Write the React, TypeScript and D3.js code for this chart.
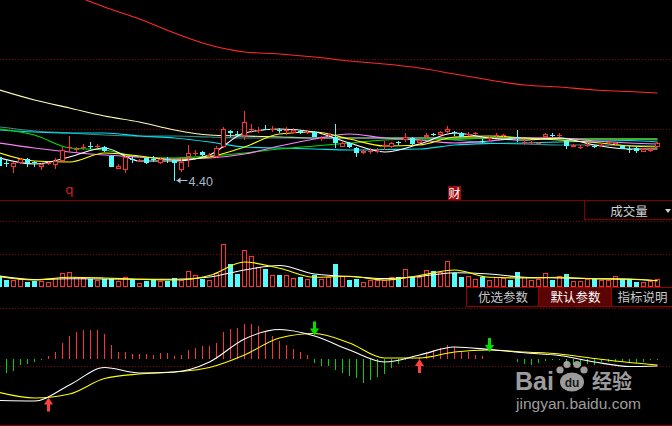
import React from "react";
import * as d3 from "d3";

// ---------------- DATA ----------------
const candleOpen = [4.64,4.58,4.54,4.58,4.62,4.59,4.54,4.57,4.56,4.60,4.73,4.72,4.74,4.755,4.75,4.74,4.65,4.52,4.51,4.615,4.605,4.63,4.625,4.58,4.615,4.61,4.51,4.64,4.68,4.69,4.66,4.64,4.74,4.90,4.865,4.85,4.92,4.91,4.925,4.92,4.91,4.90,4.88,4.90,4.89,4.89,4.825,4.86,4.84,4.74,4.78,4.73,4.68,4.69,4.70,4.76,4.74,4.785,4.81,4.83,4.78,4.84,4.87,4.86,4.89,4.895,4.88,4.87,4.875,4.805,4.825,4.855,4.855,4.835,4.845,4.78,4.78,4.77,4.84,4.86,4.855,4.80,4.74,4.74,4.76,4.75,4.76,4.785,4.77,4.75,4.725,4.73,4.69,4.70,4.74];
const candleHigh = [4.66,4.61,4.59,4.63,4.63,4.60,4.58,4.59,4.63,4.74,4.85,4.74,4.77,4.79,4.77,4.75,4.66,4.57,4.65,4.64,4.62,4.64,4.65,4.63,4.64,4.62,4.63,4.76,4.71,4.70,4.68,4.75,4.94,4.91,4.90,5.10,4.97,4.94,4.96,4.95,4.93,4.94,4.93,4.91,4.91,4.90,4.85,4.88,4.97,4.79,4.79,4.74,4.71,4.73,4.73,4.80,4.79,4.80,4.88,4.84,4.82,4.88,4.88,4.90,4.95,4.90,4.89,4.89,4.89,4.82,4.85,4.88,4.87,4.84,4.91,4.81,4.80,4.79,4.88,4.88,4.88,4.81,4.77,4.76,4.78,4.76,4.78,4.81,4.79,4.76,4.75,4.74,4.73,4.73,4.79];
const candleLow = [4.54,4.54,4.48,4.57,4.54,4.54,4.51,4.56,4.52,4.59,4.69,4.69,4.71,4.72,4.73,4.69,4.54,4.52,4.48,4.58,4.59,4.57,4.59,4.57,4.58,4.40,4.49,4.54,4.65,4.65,4.64,4.63,4.73,4.84,4.84,4.81,4.88,4.88,4.91,4.89,4.88,4.86,4.88,4.87,4.87,4.84,4.80,4.84,4.73,4.74,4.73,4.64,4.67,4.67,4.68,4.71,4.73,4.76,4.79,4.76,4.77,4.83,4.85,4.85,4.88,4.85,4.84,4.85,4.86,4.78,4.80,4.84,4.84,4.82,4.79,4.76,4.76,4.76,4.84,4.84,4.84,4.72,4.74,4.72,4.74,4.73,4.74,4.76,4.76,4.72,4.68,4.68,4.69,4.69,4.74];
const candleClose = [4.55,4.575,4.58,4.62,4.58,4.585,4.57,4.575,4.60,4.71,4.735,4.725,4.745,4.75,4.755,4.70,4.54,4.55,4.64,4.61,4.61,4.58,4.62,4.62,4.61,4.58,4.59,4.68,4.685,4.66,4.665,4.73,4.92,4.88,4.86,4.99,4.925,4.915,4.92,4.925,4.905,4.905,4.91,4.88,4.895,4.84,4.83,4.865,4.78,4.78,4.74,4.68,4.70,4.695,4.705,4.765,4.78,4.78,4.84,4.77,4.81,4.86,4.865,4.89,4.92,4.89,4.84,4.875,4.88,4.80,4.83,4.86,4.86,4.83,4.84,4.785,4.785,4.775,4.87,4.855,4.86,4.75,4.76,4.745,4.765,4.745,4.765,4.79,4.78,4.72,4.72,4.70,4.72,4.72,4.78];
const volume = [11000,7000,7000,8000,5000,6000,6000,5000,9000,14000,15000,10000,9000,8000,7000,8000,8000,6000,10000,8000,4000,6000,8000,6000,6000,9000,7000,16000,12000,8000,7000,14000,43000,23000,13000,37000,31000,20000,18000,12000,12000,12000,9000,10000,8000,12000,8000,10000,23000,11000,7000,8000,5000,7000,7000,7000,10000,10000,18000,10000,10000,17000,16000,15000,26000,14000,10000,11000,8000,10000,7000,10000,9000,7000,15000,10000,7000,8000,14000,7000,11000,13000,6000,6000,8000,8000,7000,7000,11000,8000,8000,5000,5000,6000,8000];

// moving-average lines, read at these candle indices
const sampleIdx = [0,5,10,15,20,25,30,35,40,45,50,55,60,65,70,75,80,85,90,94];
const maRed = [6.61,6.46,6.28,6.14,6.02,5.88,5.76,5.69,5.67,5.64,5.60,5.57,5.53,5.47,5.41,5.36,5.34,5.31,5.295,5.28];
const maCream = [5.31,5.21,5.13,5.05,4.99,4.91,4.86,4.85,4.84,4.83,4.83,4.83,4.83,4.83,4.83,4.83,4.825,4.82,4.82,4.82];
const maTeal = [4.94,4.90,4.88,4.86,4.85,4.85,4.84,4.83,4.83,4.83,4.83,4.83,4.83,4.81,4.78,4.77,4.76,4.76,4.755,4.75];
const maCyan = [4.91,4.89,4.88,4.88,4.85,4.83,4.79,4.74,4.73,4.72,4.71,4.715,4.72,4.76,4.775,4.78,4.79,4.80,4.805,4.79];
const maGreen = [4.92,4.86,4.73,4.71,4.64,4.63,4.65,4.68,4.72,4.75,4.78,4.81,4.82,4.815,4.83,4.825,4.82,4.82,4.82,4.81];
const maMagenta = [4.78,4.73,4.69,4.66,4.64,4.62,4.63,4.67,4.75,4.82,4.87,4.83,4.81,4.78,4.80,4.83,4.83,4.80,4.78,4.77];
const maYellow = [4.68,4.60,4.59,4.68,4.65,4.61,4.64,4.74,4.87,4.89,4.82,4.75,4.76,4.84,4.85,4.83,4.81,4.785,4.75,4.74];
const maWhite = [4.63,4.57,4.64,4.73,4.60,4.60,4.66,4.88,4.92,4.89,4.78,4.69,4.77,4.88,4.83,4.81,4.83,4.76,4.72,4.72];

const volMa5 = [10300,7000,9700,9000,7700,7000,11500,25000,18700,9700,10700,7000,11500,17000,9700,9000,9700,8300,8000,6300];
const volMa10 = [11000,7500,8300,8000,7700,7700,10000,17000,21500,13000,10500,8500,10500,14300,13000,9700,9000,8300,7700,6300];

const macdBar = [-0.014,-0.014,-0.012,-0.0065,-0.0055,-0.0035,-0.001,0.0025,0.007,0.016,0.0225,0.0265,0.0285,0.0285,0.0285,0.0245,0.0135,0.007,0.007,0.0045,0.005,0.0045,0.0035,0.006,0.006,0.0025,0.0035,0.0085,0.011,0.0125,0.0125,0.016,0.027,0.030,0.0305,0.035,0.035,0.0325,0.0265,0.0225,0.018,0.0135,0.010,0.007,0.0035,-0.004,-0.0075,-0.007,-0.0115,-0.0145,-0.0175,-0.0195,-0.024,-0.0215,-0.0185,-0.015,-0.009,-0.005,-0.001,0.0005,0.0015,0.007,0.0085,0.011,0.0135,0.012,0.007,0.007,0.0035,0.0025,-0.0005,-0.0005,-0.0005,-0.0005,-0.0035,-0.005,-0.006,-0.004,-0.0025,-0.001,-0.001,-0.005,-0.006,-0.007,-0.005,-0.006,-0.0035,-0.003,-0.003,-0.0035,-0.004,-0.004,-0.0035,-0.0015,-0.001];
const difLine = [-0.042,-0.0425,-0.0265,-0.009,-0.0145,-0.0135,-0.0035,0.0195,0.029,0.0225,0.0085,-0.0035,0.0035,0.0115,0.009,0.0057,0.003,-0.0035,-0.008,-0.0075];
const deaLine = [-0.034,-0.0395,-0.0355,-0.020,-0.0155,-0.0135,-0.009,0.0035,0.0205,0.025,0.0155,0.0005,0.0005,0.0065,0.0085,0.0065,0.0045,0.0,-0.004,-0.0065];
const buySignals = [7, 60];
const sellSignals = [45, 70];

const eventIdx = [10, 65];
const eventText = ["q", "财"];
const volumeTitle = "成交量";
const buttonLabels = ["优选参数", "默认参数", "指标说明"];

// ---------------- STYLE ----------------
const RED = "#ff3232";
const CYAN = "#54fcfc";
const GRID = "#8a0000";
const CJK = "'Noto Sans CJK SC', sans-serif";

export default function App() {
  const n = candleOpen.length;
  const x = d3.scaleLinear().domain([0, n - 1]).range([-0.5, 7 * (n - 1) - 0.5]);
  const yP = d3.scaleLinear().domain([6.21, 4.21]).range([0, 200]);
  const yV = d3.scaleLinear().domain([0, 87000]).range([287, 200]);
  const yM = d3.scaleLinear().domain([-0.0665, 0.0505]).range([425, 308]);

  const sampled = (vals: number[], ys: (v: number) => number) =>
    d3.line<number>().x((_, i) => x(sampleIdx[i])).y((d) => ys(d)).curve(d3.curveMonotoneX)(vals) || "";

  const priceLines: [number[], string][] = [
    [maRed, "#ff2a2a"],
    [maCream, "#ffffb4"],
    [maTeal, "#3a8c8c"],
    [maCyan, "#00e4f0"],
    [maGreen, "#00e000"],
    [maMagenta, "#ff80ff"],
    [maYellow, "#ffff00"],
    [maWhite, "#ffffff"],
  ];

  const R = Math.round;
  const lowIdx = d3.minIndex(candleLow);
  const lowLabel = d3.format(".2f")(candleLow[lowIdx]);
  const deaAt = d3.scaleLinear().domain(sampleIdx).range(deaLine);

  const gridDots = (y: number, key: string) => (
    <line key={key} x1={0} x2={672} y1={y + 0.5} y2={y + 0.5} stroke={GRID} strokeDasharray="1 2" />
  );

  const btnEdges = [466, 538, 611, 673];

  return (
    <svg width={672} height={426} style={{ position: "fixed", left: 0, top: 0, background: "#000" }}>
      <rect x={0} y={0} width={672} height={426} fill="#000" />
      <defs>
        <clipPath id="pclip"><rect x={0} y={0} width={672} height={200} /></clipPath>
      </defs>

      {/* grids */}
      {gridDots(59, "g1")}
      {gridDots(129, "g2")}
      {gridDots(221, "g3")}
      {gridDots(254, "g4")}
      {gridDots(308, "g5")}
      {gridDots(366, "g6")}
      <line x1={0} x2={672} y1={200.5} y2={200.5} stroke="#800000" />
      <line x1={0} x2={672} y1={425.5} y2={425.5} stroke="#800000" />

      {/* price panel */}
      <g clipPath="url(#pclip)">
        {priceLines.map(([vals, col], i) => (
          <path key={"ma" + i} d={sampled(vals, yP)} fill="none" stroke={col} strokeWidth={1.1} />
        ))}
        <g shapeRendering="crispEdges">
          {candleOpen.map((o, i) => {
            const c = candleClose[i];
            const cx = x(i);
            const hi = R(yP(candleHigh[i]));
            const lo = R(yP(candleLow[i]));
            if (c >= o) {
              const top = R(yP(c));
              const bot = R(yP(o));
              if (bot - top >= 2) {
                return (
                  <g key={"c" + i}>
                    <line x1={cx} x2={cx} y1={hi} y2={top} stroke={RED} />
                    <line x1={cx} x2={cx} y1={bot} y2={lo} stroke={RED} />
                    <rect x={cx - 2} y={top + 0.5} width={4} height={bot - top - 1} fill="#000" stroke={RED} />
                  </g>
                );
              }
              return (
                <g key={"c" + i}>
                  <line x1={cx} x2={cx} y1={hi} y2={lo} stroke={RED} />
                  <line x1={cx - 2.5} x2={cx + 2.5} y1={top + 0.5} y2={top + 0.5} stroke={RED} />
                </g>
              );
            }
            const top = R(yP(o));
            const bot = R(yP(c));
            return (
              <g key={"c" + i}>
                <line x1={cx} x2={cx} y1={hi} y2={lo} stroke={CYAN} />
                <rect x={cx - 2.5} y={top} width={5} height={Math.max(1, bot - top)} fill={CYAN} />
              </g>
            );
          })}
        </g>
        {/* lowest price marker */}
        <g>
          <line x1={x(lowIdx) + 2} x2={x(lowIdx) + 13} y1={R(yP(candleLow[lowIdx])) - 0.5} y2={R(yP(candleLow[lowIdx])) - 0.5} stroke="#b0bfd0" />
          <path d={`M${x(lowIdx) + 2},${R(yP(candleLow[lowIdx])) - 0.5} l4,-3 l0,6 z`} fill="#b0bfd0" />
          <text x={x(lowIdx) + 14} y={R(yP(candleLow[lowIdx])) + 4.5} fill="#a8b8cc" fontSize={12.5} fontFamily="'Liberation Sans', Arial, sans-serif">{lowLabel}</text>
        </g>
        {/* event markers */}
        <text x={x(eventIdx[0])} y={194} textAnchor="middle" fill="#d42020" fontSize={13} fontFamily="'DejaVu Sans', sans-serif">{eventText[0]}</text>
        <rect x={x(eventIdx[1]) - 6.5} y={186} width={13} height={14} fill="#9a0c0c" />
        <text x={x(eventIdx[1])} y={198} textAnchor="middle" fill="#ffffff" fontSize={12} fontFamily={CJK}>{eventText[1]}</text>
      </g>

      {/* volume panel */}
      <rect x={584.5} y={200.5} width={90} height={19} fill="#000" stroke="#800000" />
      <text x={629} y={215.5} textAnchor="middle" fill="#d0d0d0" fontSize={12.5} fontFamily={CJK}>{volumeTitle}</text>
      <path d="M665,209 L671,209 L668,213 Z" fill="#d0d0d0" />
      <g shapeRendering="crispEdges">
        {volume.map((v, i) => {
          const cx = x(i);
          const top = R(yV(v));
          const up = candleClose[i] >= candleOpen[i];
          return up ? (
            <rect key={"v" + i} x={cx - 2} y={top + 0.5} width={4} height={287 - top - 1} fill="#000" stroke={RED} />
          ) : (
            <rect key={"v" + i} x={cx - 2.5} y={top} width={5} height={287 - top} fill={CYAN} />
          );
        })}
      </g>
      <path d={sampled(volMa10, yV)} fill="none" stroke="#ffffff" strokeWidth={1.1} />
      <path d={sampled(volMa5, yV)} fill="none" stroke="#ffff00" strokeWidth={1.1} />

      {/* buttons */}
      {buttonLabels.map((lab, i) => (
        <g key={"b" + i}>
          <rect x={btnEdges[i] + 0.5} y={287.5} width={btnEdges[i + 1] - btnEdges[i]} height={19} fill={i === 1 ? "#5a0404" : "#000"} stroke="#9a0000" />
          <text x={(btnEdges[i] + Math.min(672, btnEdges[i + 1])) / 2 + 1} y={302} textAnchor="middle" fill={i === 1 ? "#ffffff" : "#c8c8c8"} fontSize={12.5} fontFamily={CJK}>{lab}</text>
        </g>
      ))}

      {/* MACD panel */}
      <g shapeRendering="crispEdges">
        {macdBar.map((v, i) => (
          <line key={"m" + i} x1={x(i)} x2={x(i)} y1={yM(0)} y2={yM(v)} stroke={v >= 0 ? RED : "#00d200"} />
        ))}
      </g>
      <path d={sampled(deaLine, yM)} fill="none" stroke="#ffff00" strokeWidth={1.1} />
      <path d={sampled(difLine, yM)} fill="none" stroke="#ffffff" strokeWidth={1.1} />
      {buySignals.map((k) => {
        const cx = x(k);
        const t = yM(deaAt(k)) + 1;
        return (
          <path key={"buy" + k} d={`M${cx},${t} L${cx + 4.5},${t + 7} L${cx + 1.5},${t + 7} L${cx + 1.5},${t + 14} L${cx - 1.5},${t + 14} L${cx - 1.5},${t + 7} L${cx - 4.5},${t + 7} Z`} fill="#ff4040" />
        );
      })}
      {sellSignals.map((k) => {
        const cx = x(k);
        const b = yM(deaAt(k)) + 2;
        return (
          <path key={"sell" + k} d={`M${cx},${b} L${cx + 4.5},${b - 7} L${cx + 1.5},${b - 7} L${cx + 1.5},${b - 14} L${cx - 1.5},${b - 14} L${cx - 1.5},${b - 7} L${cx - 4.5},${b - 7} Z`} fill="#00e000" />
        );
      })}

      {/* watermark */}
      <g opacity={0.78} fill="#c8c8c8">
        <text x={515} y={390} fontSize={25} fontWeight="bold" fontFamily="'Liberation Sans', Arial, sans-serif">Bai</text>
        <circle cx={560} cy={370} r={3.6} />
        <circle cx={567} cy={364.5} r={3.6} />
        <circle cx={577} cy={364.5} r={3.6} />
        <circle cx={584} cy={370} r={3.6} />
        <ellipse cx={572} cy={382} rx={12} ry={9.5} />
        <text x={572} y={387} textAnchor="middle" fontSize={12} fontWeight="bold" fill="#222" fontFamily="'Liberation Sans', Arial, sans-serif">du</text>
        <text x={592} y={389} fontSize={20} fontWeight="bold" fontFamily={CJK}>经验</text>
        <text x={516} y={409} fontSize={15.5} fontFamily="'Liberation Sans', Arial, sans-serif">jingyan.baidu.com</text>
      </g>
    </svg>
  );
}
